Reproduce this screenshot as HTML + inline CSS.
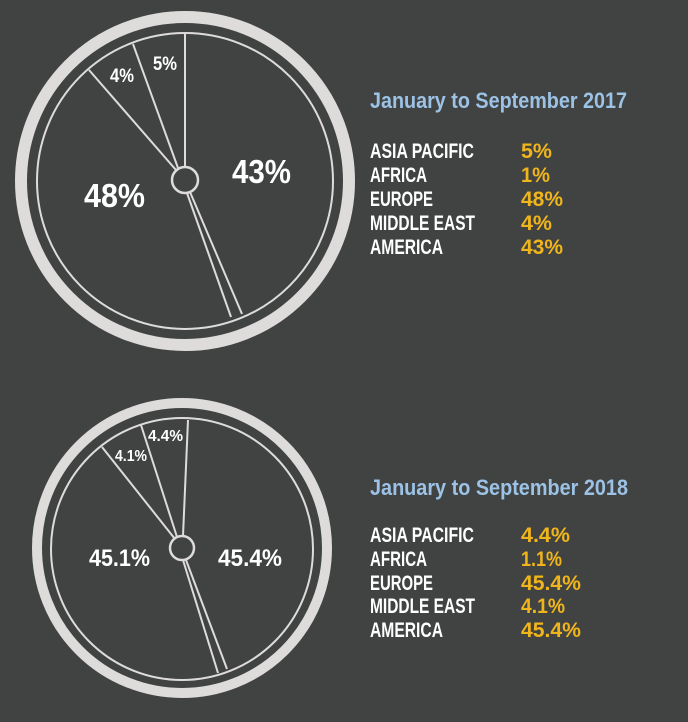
<!DOCTYPE html>
<html><head><style>
html,body{margin:0;padding:0;background:#404342;}
svg{display:block}
text{font-family:"Liberation Sans",sans-serif;}
</style></head><body>
<svg width="688" height="722" viewBox="0 0 688 722" xmlns="http://www.w3.org/2000/svg">
<rect width="688" height="722" fill="#404342"/>
<g fill="none" stroke="#dedcdb">
 <circle cx="185" cy="181" r="164" stroke-width="12"/>
 <circle cx="185" cy="181" r="148" stroke-width="2"/>
 <circle cx="185" cy="180" r="13" stroke-width="2.5"/>
 <line x1="185" y1="167" x2="185" y2="33" stroke-width="2"/>
 <line x1="178" y1="168" x2="133" y2="44" stroke-width="2"/>
 <line x1="176" y1="170" x2="89" y2="70" stroke-width="2"/>
 <line x1="187" y1="193" x2="231" y2="317" stroke-width="2"/>
 <line x1="190" y1="192" x2="242" y2="314" stroke-width="2"/>

 <circle cx="182" cy="548" r="145" stroke-width="10"/>
 <circle cx="182" cy="549" r="131" stroke-width="2"/>
 <circle cx="182" cy="548" r="12" stroke-width="2.5"/>
 <line x1="183" y1="536" x2="188" y2="420" stroke-width="2"/>
 <line x1="177" y1="537" x2="141" y2="425" stroke-width="2"/>
 <line x1="175" y1="539" x2="102" y2="447" stroke-width="2"/>
 <line x1="183" y1="560" x2="218" y2="673" stroke-width="2"/>
 <line x1="186" y1="560" x2="227" y2="669" stroke-width="2"/>
</g>
<g fill="#ffffff" font-weight="bold" lengthAdjust="spacingAndGlyphs">
 <text x="153" y="70" font-size="19" textLength="24" lengthAdjust="spacingAndGlyphs">5%</text>
 <text x="110" y="82" font-size="19" textLength="24" lengthAdjust="spacingAndGlyphs">4%</text>
 <text x="84" y="207" font-size="33" textLength="61" lengthAdjust="spacingAndGlyphs">48%</text>
 <text x="232" y="183" font-size="33" textLength="59" lengthAdjust="spacingAndGlyphs">43%</text>
 <text x="148" y="441" font-size="16" textLength="35" lengthAdjust="spacingAndGlyphs">4.4%</text>
 <text x="115" y="461" font-size="16" textLength="32" lengthAdjust="spacingAndGlyphs">4.1%</text>
 <text x="89" y="566" font-size="24" textLength="61" lengthAdjust="spacingAndGlyphs">45.1%</text>
 <text x="218" y="566" font-size="24" textLength="64" lengthAdjust="spacingAndGlyphs">45.4%</text>
</g>
<g font-weight="bold">
 <text x="370" y="108" font-size="22" fill="#9cc2e5" textLength="257" lengthAdjust="spacingAndGlyphs">January to September 2017</text>
 <g fill="#ffffff" font-size="21">
  <text x="370" y="158" textLength="104" lengthAdjust="spacingAndGlyphs">ASIA PACIFIC</text>
  <text x="370" y="182" textLength="57" lengthAdjust="spacingAndGlyphs">AFRICA</text>
  <text x="370" y="206" textLength="63" lengthAdjust="spacingAndGlyphs">EUROPE</text>
  <text x="370" y="230" textLength="105" lengthAdjust="spacingAndGlyphs">MIDDLE EAST</text>
  <text x="370" y="254" textLength="73" lengthAdjust="spacingAndGlyphs">AMERICA</text>
 </g>
 <g fill="#f1b51c" font-size="21">
  <text x="521" y="158" textLength="31" lengthAdjust="spacingAndGlyphs">5%</text>
  <text x="521" y="182" textLength="29" lengthAdjust="spacingAndGlyphs">1%</text>
  <text x="521" y="206" textLength="42" lengthAdjust="spacingAndGlyphs">48%</text>
  <text x="521" y="230" textLength="31" lengthAdjust="spacingAndGlyphs">4%</text>
  <text x="521" y="254" textLength="42" lengthAdjust="spacingAndGlyphs">43%</text>
 </g>
 <text x="370" y="495" font-size="22" fill="#9cc2e5" textLength="258" lengthAdjust="spacingAndGlyphs">January to September 2018</text>
 <g fill="#ffffff" font-size="21">
  <text x="370" y="542" textLength="104" lengthAdjust="spacingAndGlyphs">ASIA PACIFIC</text>
  <text x="370" y="566" textLength="57" lengthAdjust="spacingAndGlyphs">AFRICA</text>
  <text x="370" y="590" textLength="63" lengthAdjust="spacingAndGlyphs">EUROPE</text>
  <text x="370" y="613" textLength="105" lengthAdjust="spacingAndGlyphs">MIDDLE EAST</text>
  <text x="370" y="637" textLength="73" lengthAdjust="spacingAndGlyphs">AMERICA</text>
 </g>
 <g fill="#f1b51c" font-size="21">
  <text x="521" y="542" textLength="49" lengthAdjust="spacingAndGlyphs">4.4%</text>
  <text x="521" y="566" textLength="41" lengthAdjust="spacingAndGlyphs">1.1%</text>
  <text x="521" y="590" textLength="60" lengthAdjust="spacingAndGlyphs">45.4%</text>
  <text x="521" y="613" textLength="44" lengthAdjust="spacingAndGlyphs">4.1%</text>
  <text x="521" y="637" textLength="60" lengthAdjust="spacingAndGlyphs">45.4%</text>
 </g>
</g>
</svg>
</body></html>
